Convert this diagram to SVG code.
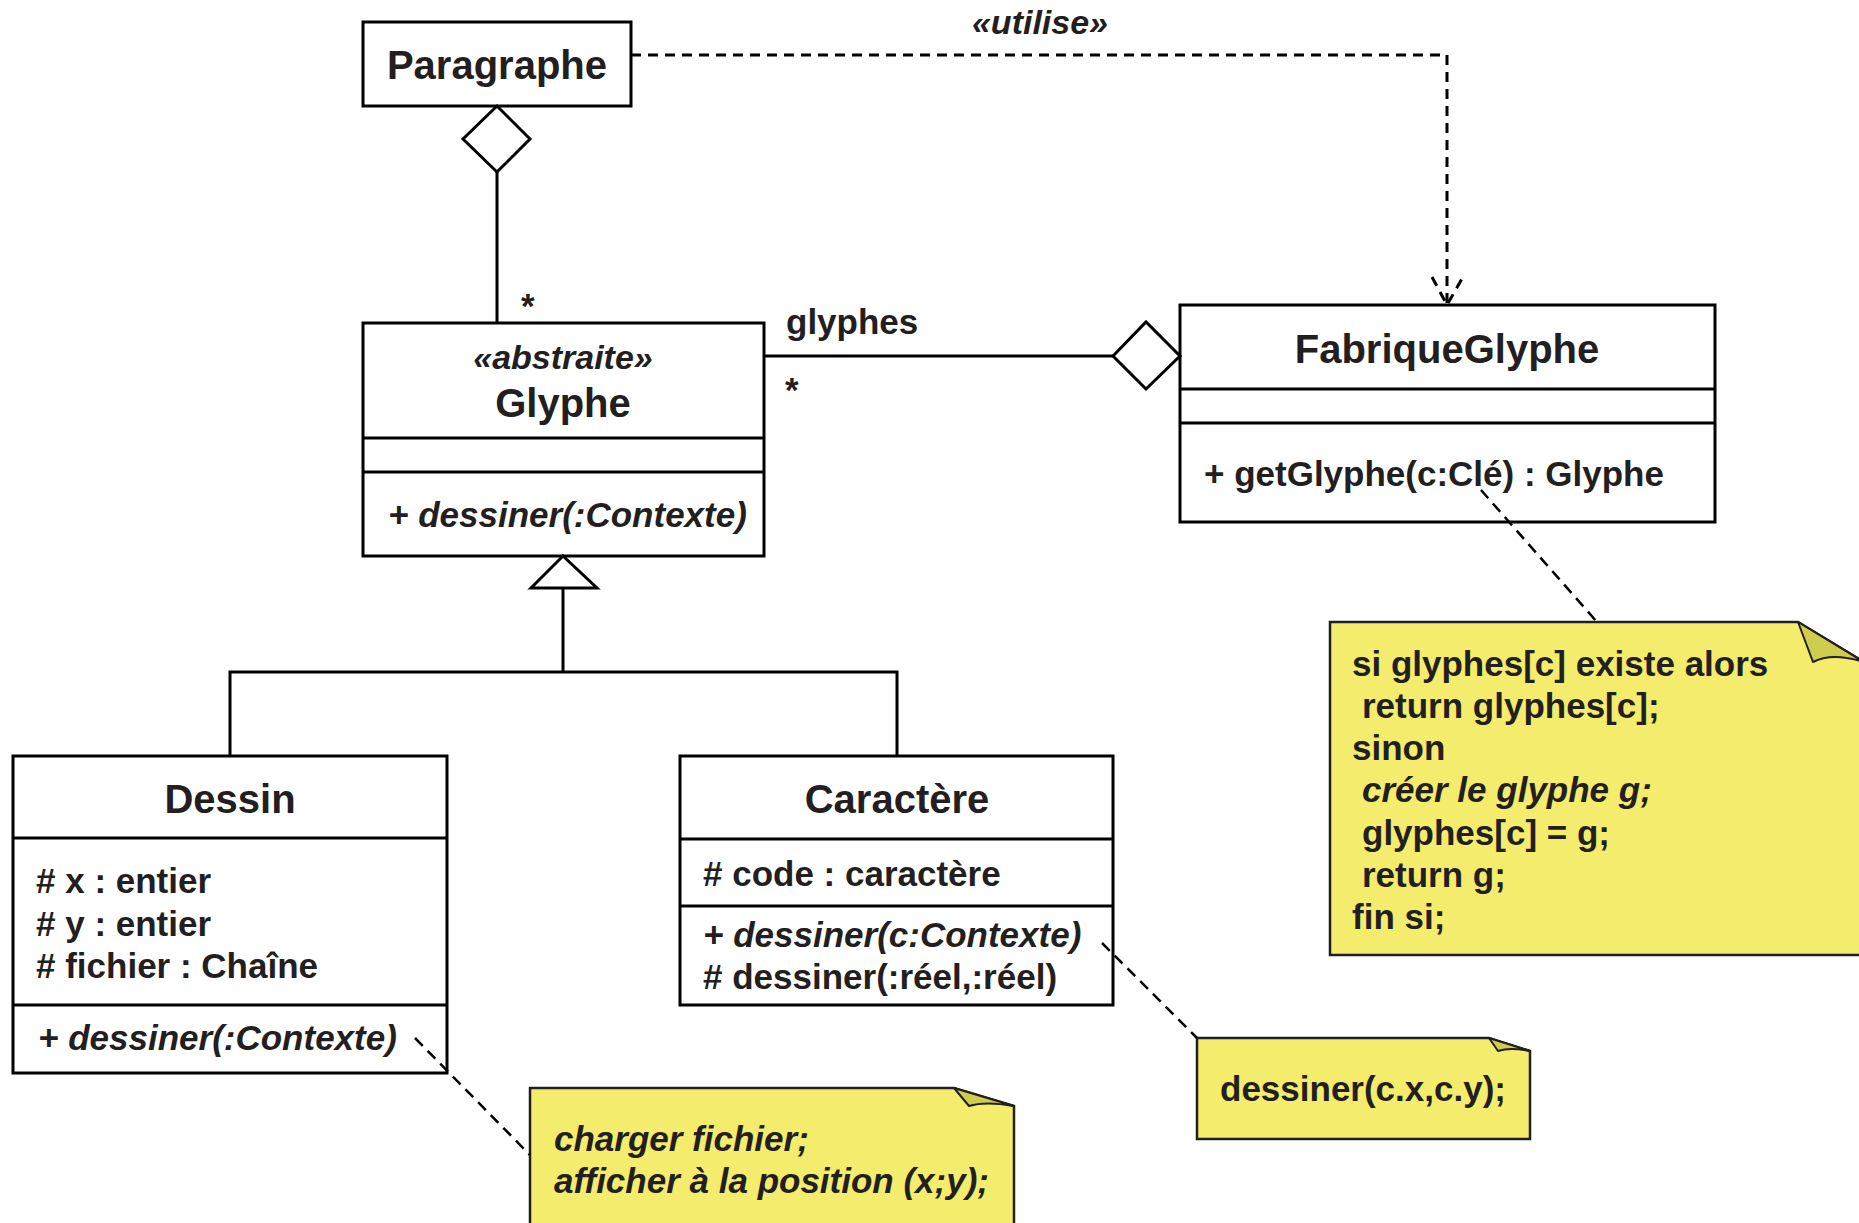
<svg xmlns="http://www.w3.org/2000/svg" width="1859" height="1223" viewBox="0 0 1859 1223">
  <style>
    .box { fill: #ffffff; stroke: #000000; stroke-width: 3; }
    .sep { stroke: #000000; stroke-width: 3; fill: none; }
    .line { stroke: #000000; stroke-width: 3; fill: none; }
    .dep { stroke: #000000; stroke-width: 3; fill: none; stroke-dasharray: 10 7; }
    .anchor { stroke: #000000; stroke-width: 2.5; fill: none; stroke-dasharray: 11 7; }
    .note { fill: #f4ec6c; stroke: #231f20; stroke-width: 2.5; }
    .fold { fill: #cfcd4f; stroke: #231f20; stroke-width: 2; stroke-linejoin: round; }
    .hollow { fill: #ffffff; stroke: #000000; stroke-width: 3; }
    text { font-family: "Liberation Sans", Arial, Helvetica, sans-serif; font-weight: bold; fill: #231f20; }
    .name { font-size: 40px; text-anchor: middle; }
    .mem { font-size: 35px; }
    .it { font-style: italic; }
    .stereo { font-size: 34px; font-style: italic; text-anchor: middle; }
  </style>

  <!-- Paragraphe -->
  <g id="paragraphe">
    <rect class="box" x="363" y="22" width="268" height="84"/>
    <text class="name" x="497" y="79">Paragraphe</text>
  </g>

  <!-- Glyphe -->
  <g id="glyphe">
    <rect class="box" x="363" y="323" width="401" height="233"/>
    <line class="sep" x1="363" y1="438" x2="764" y2="438"/>
    <line class="sep" x1="363" y1="472" x2="764" y2="472"/>
    <text class="stereo" x="563" y="369">«abstraite»</text>
    <text class="name" x="563" y="417">Glyphe</text>
    <text class="mem it" x="388" y="527">+ dessiner(:Contexte)</text>
  </g>

  <!-- FabriqueGlyphe -->
  <g id="fabrique-glyphe">
    <rect class="box" x="1180" y="305" width="535" height="217"/>
    <line class="sep" x1="1180" y1="389" x2="1715" y2="389"/>
    <line class="sep" x1="1180" y1="423" x2="1715" y2="423"/>
    <text class="name" x="1447" y="363">FabriqueGlyphe</text>
    <text class="mem" x="1204" y="486">+ getGlyphe(c:Clé) : Glyphe</text>
  </g>

  <!-- Dessin -->
  <g id="dessin">
    <rect class="box" x="13" y="756" width="434" height="317"/>
    <line class="sep" x1="13" y1="838" x2="447" y2="838"/>
    <line class="sep" x1="13" y1="1005" x2="447" y2="1005"/>
    <text class="name" x="230" y="813">Dessin</text>
    <text class="mem" x="36" y="893"># x : entier</text>
    <text class="mem" x="36" y="936"># y : entier</text>
    <text class="mem" x="36" y="978"># fichier : Chaîne</text>
    <text class="mem it" x="38" y="1050">+ dessiner(:Contexte)</text>
  </g>

  <!-- Caractère -->
  <g id="caractere">
    <rect class="box" x="680" y="756" width="433" height="249"/>
    <line class="sep" x1="680" y1="839" x2="1113" y2="839"/>
    <line class="sep" x1="680" y1="906" x2="1113" y2="906"/>
    <text class="name" x="897" y="813">Caractère</text>
    <text class="mem" x="703" y="886"># code : caractère</text>
    <text class="mem it" x="703" y="947">+ dessiner(c:Contexte)</text>
    <text class="mem" x="703" y="989"># dessiner(:réel,:réel)</text>
  </g>

  <!-- note on getGlyphe -->
  <g id="note-getglyphe">
    <path class="note" d="M1330,622 H1798 L1864,662 V955 H1330 Z"/>
    <path class="fold" d="M1798,622 L1813,662 Q1832,652 1864,662 Z"/>
    <text class="mem" x="1352" y="676">si glyphes[c] existe alors</text>
    <text class="mem" x="1362" y="718">return glyphes[c];</text>
    <text class="mem" x="1352" y="760">sinon</text>
    <text class="mem it" x="1362" y="802">créer le glyphe g;</text>
    <text class="mem" x="1362" y="845">glyphes[c] = g;</text>
    <text class="mem" x="1362" y="887">return g;</text>
    <text class="mem" x="1352" y="929">fin si;</text>
  </g>

  <!-- note on Dessin.dessiner -->
  <g id="note-dessin">
    <path class="note" d="M530,1088 H954 L1014,1106 V1228 H530 Z"/>
    <path class="fold" d="M954,1088 L969,1106 Q985,1101 1014,1106 Z"/>
    <text class="mem it" x="554" y="1151">charger fichier;</text>
    <text class="mem it" x="554" y="1193">afficher à la position (x;y);</text>
  </g>

  <!-- note on Caractère.dessiner -->
  <g id="note-caractere">
    <path class="note" d="M1197,1038 H1489 L1530,1051 V1139 H1197 Z"/>
    <path class="fold" d="M1489,1038 L1498,1051 Q1510,1047 1530,1051 Z"/>
    <text class="mem" x="1220" y="1101">dessiner(c.x,c.y);</text>
  </g>

  <!-- connectors, drawn over the class boxes -->
  <g id="connectors">
    <!-- Paragraphe aggregates Glyphe -->
    <line class="line" x1="497" y1="172" x2="497" y2="323"/>
    <polygon class="hollow" points="497,106 530,139 497,172 463,139"/>
    <text class="mem" x="521" y="318">*</text>

    <!-- FabriqueGlyphe aggregates Glyphe (glyphes) -->
    <line class="line" x1="764" y1="356" x2="1113" y2="356"/>
    <polygon class="hollow" points="1113,356 1146,322 1180,356 1146,389"/>
    <text class="mem" x="786" y="334">glyphes</text>
    <text class="mem" x="785" y="402">*</text>

    <!-- usage dependency Paragraphe -> FabriqueGlyphe -->
    <path class="dep" d="M631,55 H1447 V303"/>
    <path class="dep" d="M1432,277 L1447,305 L1463,277" stroke-dasharray="8 5"/>
    <text class="stereo" x="1040" y="34">«utilise»</text>

    <!-- generalization Dessin, Caractère -> Glyphe -->
    <path class="line" d="M230,756 V672 H897 V756"/>
    <line class="line" x1="563" y1="672" x2="563" y2="588"/>
    <polygon class="hollow" points="563,556 597,588 531,588"/>

    <!-- note anchors -->
    <line class="anchor" x1="1481" y1="490" x2="1597" y2="622"/>
    <line class="anchor" x1="415" y1="1038" x2="530" y2="1155"/>
    <line class="anchor" x1="1102" y1="943" x2="1197" y2="1038"/>
  </g>
</svg>
